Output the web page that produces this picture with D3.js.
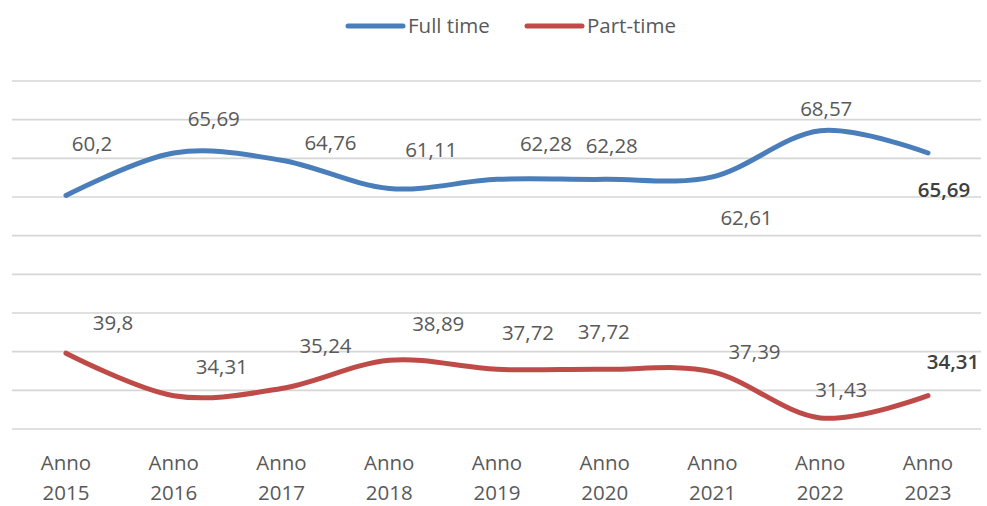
<!DOCTYPE html>
<html>
<head>
<meta charset="utf-8">
<script src="https://cdn.jsdelivr.net/npm/d3@7/dist/d3.min.js"></script>
<style>
  html, body { margin: 0; padding: 0; background: #ffffff; }
  svg { display: block; font-family: "Open Sans", "Noto Sans", sans-serif; }
</style>
</head>
<body>
<svg id="chart" width="987" height="506"></svg>
<script>
// ---- data ----
const categories = ["Anno 2015","Anno 2016","Anno 2017","Anno 2018","Anno 2019","Anno 2020","Anno 2021","Anno 2022","Anno 2023"];
const fullTime = [60.2, 65.69, 64.76, 61.11, 62.28, 62.28, 62.61, 68.57, 65.69];
const partTime = [39.8, 34.31, 35.24, 38.89, 37.72, 37.72, 37.39, 31.43, 34.31];
const seriesNames = ["Full time", "Part-time"];
const yTicks = [30, 35, 40, 45, 50, 55, 60, 65, 70, 75];

// ---- layout (label offsets from each point, px) ----
const fullLabelOffsets = [[26,-52],[40,-34],[49,-17],[42,-39],[49,-36],[7,-34],[34,41],[6,-22],[16,37]];
const partLabelOffsets = [[47,-30],[48,-29],[44,-43],[49,-36],[31,-36],[-1,-37],[42,-20],[21,-28],[25,-34]];

const colors = ["#4a7ebb", "#be4b48"];
const textColor = "#595959";
const fontSize = "20.5px";

const svg = d3.select("#chart");

const x = d3.scalePoint().domain(categories).range([66, 928]);
const y = d3.scaleLinear().domain([30, 75]).range([429, 81]);

// gridlines
svg.append("g").selectAll("line").data(yTicks).join("line")
  .attr("x1", 12).attr("x2", 981)
  .attr("y1", d => y(d)).attr("y2", d => y(d))
  .attr("stroke", "#d6d6d6").attr("stroke-width", 1.6);

// x axis labels
const xl = svg.append("g").selectAll("text").data(categories).join("text")
  .attr("text-anchor", "middle")
  .attr("fill", textColor)
  .style("font-size", fontSize);
xl.append("tspan").attr("x", d => x(d)).attr("y", 470).text(d => d.split(" ")[0]);
xl.append("tspan").attr("x", d => x(d)).attr("y", 500).text(d => d.split(" ")[1]);

// lines
const line = d3.line()
  .x((d, i) => x(categories[i]))
  .y(d => y(d))
  .curve(d3.curveCardinal.tension(0));

[fullTime, partTime].forEach((s, k) => {
  svg.append("path").datum(s)
    .attr("d", line)
    .attr("fill", "none")
    .attr("stroke", colors[k])
    .attr("stroke-width", 5)
    .attr("stroke-linecap", "round")
    .attr("stroke-linejoin", "round");
});

// data labels
const fmt = v => String(v).replace(".", ",");
[[fullTime, fullLabelOffsets], [partTime, partLabelOffsets]].forEach(([s, offs]) => {
  svg.append("g").selectAll("text").data(s).join("text")
    .attr("x", (d, i) => x(categories[i]) + offs[i][0])
    .attr("y", (d, i) => y(d) + offs[i][1])
    .attr("dy", "0.35em")
    .attr("text-anchor", "middle")
    .attr("fill", (d, i) => i === s.length - 1 ? "#404040" : textColor)
    .style("font-weight", (d, i) => i === s.length - 1 ? "600" : "normal")
    .style("font-size", fontSize)
    .text(d => fmt(d));
});

// legend
const legend = svg.append("g");
const legendX = [348, 527];
seriesNames.forEach((name, k) => {
  legend.append("line")
    .attr("x1", legendX[k]).attr("x2", legendX[k] + 55)
    .attr("y1", 26).attr("y2", 26)
    .attr("stroke", colors[k]).attr("stroke-width", 5)
    .attr("stroke-linecap", "round");
  legend.append("text")
    .attr("x", legendX[k] + 60).attr("y", 26).attr("dy", "0.35em")
    .attr("fill", textColor).style("font-size", fontSize)
    .text(name);
});
</script>
</body>
</html>
